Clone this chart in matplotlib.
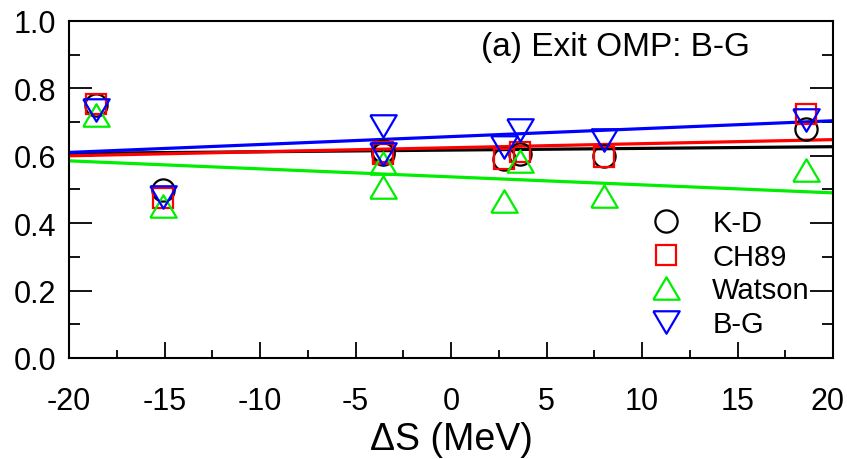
import matplotlib
matplotlib.use("Agg")
import matplotlib.pyplot as plt
from matplotlib.ticker import MultipleLocator
from matplotlib.transforms import ScaledTranslation

plt.rcParams['font.family'] = ['Liberation Sans', 'DejaVu Sans']

# Data
delta_s = [-18.6, -15.1, -3.55, -3.55, 2.8, 3.6, 8.0, 18.6]
kd     = [0.750, 0.500, 0.615, 0.605, 0.590, 0.605, 0.600, 0.680]
ch89   = [0.755, 0.475, 0.610, 0.605, 0.590, 0.610, 0.597, 0.725]
watson = [0.722, 0.452, 0.580, 0.507, 0.467, 0.585, 0.480, 0.559]
bg     = [0.735, 0.478, 0.689, 0.605, 0.625, 0.677, 0.648, 0.707]

fit_x = [-20, 20]
fit_kd     = [0.607, 0.627]
fit_ch89   = [0.600, 0.648]
fit_watson = [0.585, 0.490]
fit_bg     = [0.610, 0.704]

labels = ['K-D', 'CH89', 'Watson', 'B-G']
colors = ['black', '#ff0000', '#00ee00', '#0000ff']
xtick_vals = [-20, -15, -10, -5, 0, 5, 10, 15, 20]
xtick_labels = ['-20', '-15', '-10', '-5', '0', '5', '10', '15', '20']
ytick_vals = [0.0, 0.2, 0.4, 0.6, 0.8, 1.0]
ytick_labels = ['0.0', '0.2', '0.4', '0.6', '0.8', '1.0']

up_tri = [(-1, -0.85), (1, -0.85), (0, 0.85), (-1, -0.85)]
down_tri = [(-1, 0.85), (1, 0.85), (0, -0.85), (-1, 0.85)]
markers = ['o', 's', up_tri, down_tri]
msizes = [16, 15, 19, 19]

fig = plt.figure(figsize=(8.47, 4.6), dpi=100)
ax = fig.add_axes([69/847, 1-359/460, (833-69)/847, (359-22)/460])

series = [kd, ch89, watson, bg]
fits = [fit_kd, fit_ch89, fit_watson, fit_bg]

for f, c in zip(fits, colors):
    ax.plot(fit_x, f, color=c, lw=2.3, zorder=2)

for s, c, m, ms, lab in zip(series, colors, markers, msizes, labels):
    ax.plot(delta_s, s, linestyle='none', marker=m, markersize=ms,
            markerfacecolor='none', markeredgecolor=c, markeredgewidth=1.6,
            label=lab, zorder=3)

ax.set_xlim(-20, 20)
ax.set_ylim(0.0, 1.0)
ax.set_xticks(xtick_vals)
ax.set_xticklabels(xtick_labels)
ax.xaxis.set_minor_locator(MultipleLocator(2.5))
ax.set_yticks(ytick_vals)
ax.set_yticklabels(ytick_labels)
ax.yaxis.set_minor_locator(MultipleLocator(0.1))

ax.tick_params(axis='x', which='major', direction='in', length=11.5, width=1.3,
               labelsize=22, pad=20, top=False, bottom=True)
ax.tick_params(axis='x', which='minor', direction='in', length=5.8, width=1.3,
               top=False, bottom=True)
ax.tick_params(axis='y', which='major', direction='in', length=16.5, width=1.3,
               labelsize=22, pad=9, left=True, right=True)
ax.tick_params(axis='y', which='minor', direction='in', length=8, width=1.3,
               left=True, right=True)
for sp in ax.spines.values():
    sp.set_linewidth(1.5)

# nudge last x tick label slightly left so it stays inside the figure
last = ax.get_xticklabels()[-1]
last.set_transform(last.get_transform() + ScaledTranslation(-6/100, 0, fig.dpi_scale_trans))

ax.set_xlabel('ΔS (MeV)', fontsize=27, labelpad=4)

ax.text(0.891, 0.923, '(a) Exit OMP: B-G', transform=ax.transAxes,
        ha='right', va='center', fontsize=24)

ax.legend(loc='lower right', bbox_to_anchor=(0.985, 0.025), frameon=False,
          fontsize=21, numpoints=1, handlelength=1.2, handletextpad=1.0,
          labelspacing=0.19, borderaxespad=0.0)

fig.savefig('out.png', dpi=100)
